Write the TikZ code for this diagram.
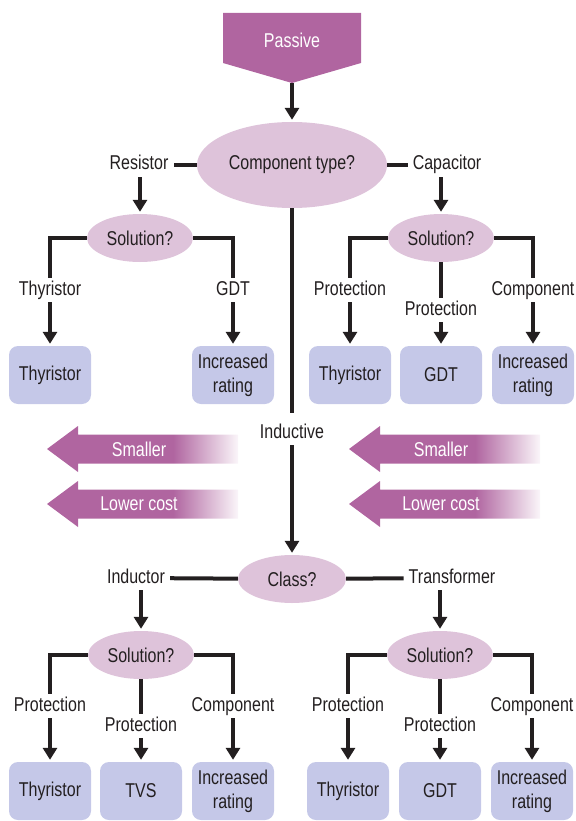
\documentclass[tikz,border=0pt]{standalone}
\usepackage{fontspec}
\setmainfont{Liberation Sans}[FakeStretch=0.8]
\usetikzlibrary{shapes.geometric,arrows.meta}
\definecolor{plum}{HTML}{B065A0}
\definecolor{lilac}{HTML}{DEC3DA}
\definecolor{periwinkle}{HTML}{C5C8E8}
\definecolor{ink}{HTML}{231F20}
\pgfdeclarehorizontalshading{fadeplum}{100bp}{color(0bp)=(plum); color(25bp)=(plum); color(58bp)=(plum); color(75bp)=(plum!6); color(100bp)=(plum!6)}
\begin{document}
\begin{tikzpicture}[x=1pt,y=-1pt,
    font=\fontsize{20}{24}\selectfont,text=ink,
    question/.style={ellipse,fill=lilac,inner sep=0pt},
    choice/.style={inner xsep=5pt,inner ysep=3pt,text height=14pt,text depth=4pt},
    device/.style={rectangle,rounded corners=9pt,fill=periwinkle,
      minimum width=82pt,minimum height=58pt,align=center,inner sep=0pt},
    link/.style={line width=4pt,draw=ink},
    flow/.style={link,-{Triangle[width=14pt,length=12pt]}},
    benefit/.style={text=white}]
  \useasboundingbox (0,0) rectangle (575,821);
  \fill[plum] (223,13) -- (361,13) -- (361,63) -- (292,83) -- (223,63) -- cycle;
  \draw
    (292,40) node[text=white] (passive){Passive}
    (292,165) node[question,minimum width=190pt,minimum height=86pt] (ctype){Component type?}
    (139,165) node[choice] (resistor){Resistor}
    (447,165) node[choice] (capacitor){Capacitor}
    (140,238) node[question,minimum width=106pt,minimum height=48pt] (rsol){Solution?}
    (441,238) node[question,minimum width=106pt,minimum height=48pt] (csol){Solution?}
    (50,290) node[choice] (rthylab){Thyristor}
    (233,290) node[choice] (rgdtlab){GDT}
    (350,290) node[choice] (cprotlab){Protection}
    (441,310) node[choice] (cgdtlab){Protection}
    (533,290) node[choice] (ccomplab){Component}
    (50,375) node[device] (rthy){Thyristor}
    (233,375) node[device] (rinc){Increased\\rating}
    (350,375) node[device] (cthy){Thyristor}
    (441,375) node[device] (cgdt){GDT}
    (533,375) node[device] (cinc){Increased\\rating}
    (292,433) node[choice] (inductive){Inductive}
    (292,579) node[question,minimum width=108pt,minimum height=48pt] (cls){Class?}
    (136,578) node[choice] (inductor){Inductor}
    (452,578) node[choice] (transformer){Transformer}
    (141,655) node[question,minimum width=106pt,minimum height=48pt] (isol){Solution?}
    (440,655) node[question,minimum width=106pt,minimum height=48pt] (tsol){Solution?}
    (50,706) node[choice] (iprotlab){Protection}
    (141,726) node[choice] (itvslab){Protection}
    (233,706) node[choice] (icomplab){Component}
    (348,706) node[choice] (tprotlab){Protection}
    (440,726) node[choice] (tgdtlab){Protection}
    (532,706) node[choice] (tcomplab){Component}
    (50,791) node[device] (ithy){Thyristor}
    (141,791) node[device] (itvs){TVS}
    (233,791) node[device] (iinc){Increased\\rating}
    (348,791) node[device] (tthy){Thyristor}
    (440,791) node[device] (tgdt){GDT}
    (532,791) node[device] (tinc){Increased\\rating};
  \coordinate (passivetip) at (292,83);
  \foreach \ax in {47,349}
    \foreach \ay/\perk [count=\k] in {449/Smaller,504/Lower cost} {
      \shade[shading=fadeplum] (\ax,\ay) -- ++(31,-23) -- ++(0,8.5) -- ++(160,0)
        -- ++(0,29) -- ++(-160,0) -- ++(0,8.5) -- cycle;
      \node[benefit] (perk\ax-\k) at (\ax+92,\ay) {\perk};
    }
  \begin{scope}[link]
    \draw (ctype) -- (resistor);
    \draw (ctype) -- (capacitor);
    \draw (rsol.west) -| (rthylab.north);
    \draw (rsol.east) -| (rgdtlab.north);
    \draw (csol.west) -| (cprotlab.north);
    \draw (csol.east) -| (ccomplab.north);
    \draw (csol) -- (cgdtlab);
    \draw[shorten >=8pt] (ctype) -- (inductive);
    \draw (cls) -- (inductor);
    \draw (cls) -- (transformer);
    \draw (isol.west) -| (iprotlab.north);
    \draw (isol.east) -| (icomplab.north);
    \draw (isol) -- (itvslab);
    \draw (tsol.west) -| (tprotlab.north);
    \draw (tsol.east) -| (tcomplab.north);
    \draw (tsol) -- (tgdtlab);
  \end{scope}
  \begin{scope}[flow,shorten >=2pt]
    \draw (passivetip) -- (ctype);
    \draw (resistor.south -| rsol) -- (rsol);
    \draw (capacitor.south -| csol) -- (csol);
    \draw (rthylab) -- (rthy);
    \draw (rgdtlab) -- (rinc);
    \draw (cprotlab) -- (cthy);
    \draw (cgdtlab) -- (cgdt);
    \draw (ccomplab) -- (cinc);
    \draw (inductive) -- (cls);
    \draw (inductor.south -| isol) -- (isol);
    \draw (transformer.south -| tsol) -- (tsol);
    \draw (iprotlab) -- (ithy);
    \draw (itvslab) -- (itvs);
    \draw (icomplab) -- (iinc);
    \draw (tprotlab) -- (tthy);
    \draw (tgdtlab) -- (tgdt);
    \draw (tcomplab) -- (tinc);
  \end{scope}
\end{tikzpicture}
\end{document}
